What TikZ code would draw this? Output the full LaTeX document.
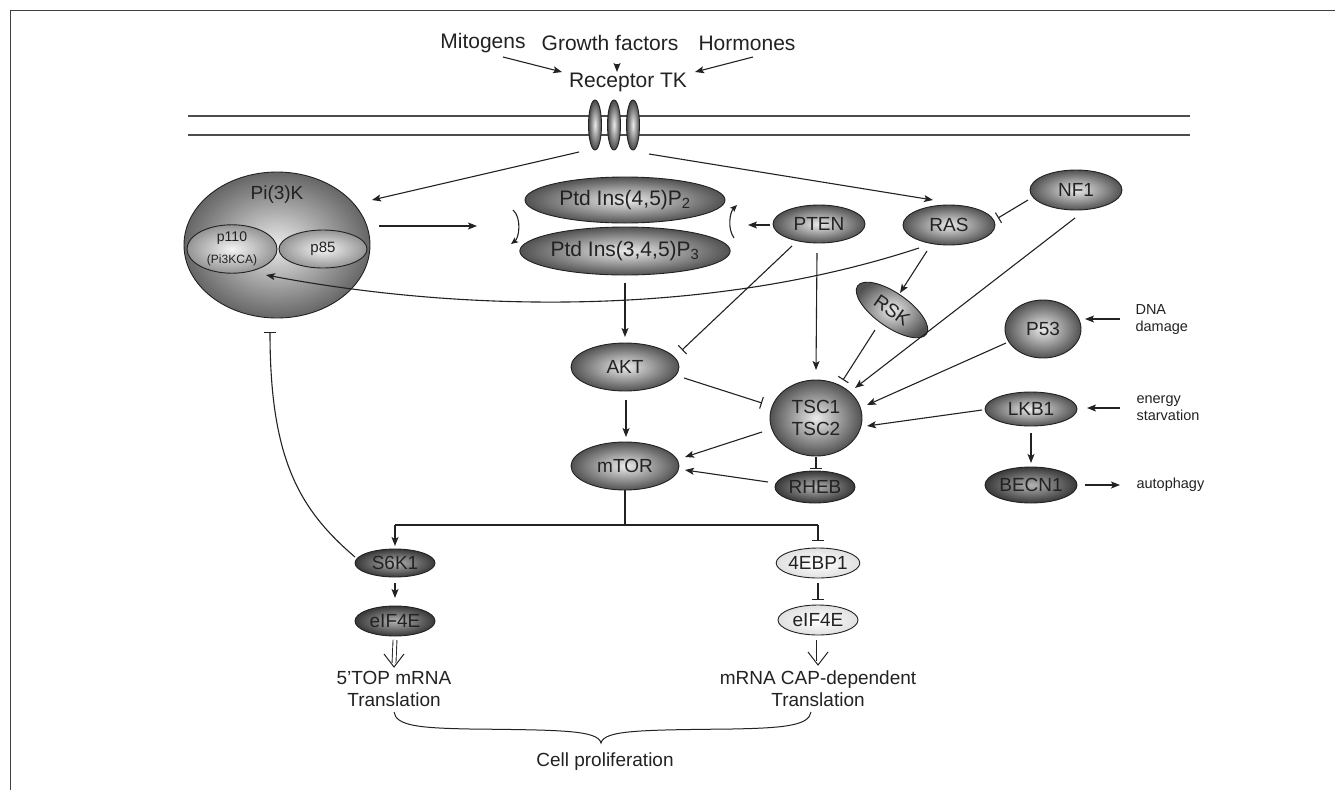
\documentclass[tikz,border=0pt]{standalone}
\usepackage{fontspec}
\setmainfont{Liberation Sans}
\usetikzlibrary{arrows.meta,shapes.geometric}
\definecolor{ink}{HTML}{222222}
\begin{document}
\begin{tikzpicture}[x=1pt,y=-1pt,
  every node/.style={text=ink},
  big/.style={font=\fontsize{21}{24}\selectfont},
  nd/.style={font=\fontsize{19}{22}\selectfont},
  sm/.style={font=\fontsize{14.5}{17}\selectfont},
  ov/.style={ellipse, draw=ink, line width=0.9pt, inner sep=0pt, nd},
  std/.style={ov, inner color=black!8, outer color=black!68},
  dk/.style={ov, inner color=black!30, outer color=black!78},
  lt/.style={ov, inner color=white, outer color=black!12},
  conn/.style={draw=ink, line width=1.1pt},
  arr/.style={conn, -{Stealth[length=9pt,width=7pt,inset=2pt]}},
  inh/.style={conn, -{Bar[width=12pt,line width=1.1pt]}},
  dshaft/.style={draw=ink, line width=0.9pt, double=white, double distance=3pt},
  vhead/.style={draw=ink, line width=1pt, line join=miter},
]
\useasboundingbox (0,0) rectangle (1335,790);
\draw[line width=1pt, black!75] (1335,10) -- (10,10) -- (10,790);

% membrane
\draw[black!70, line width=1.3pt] (188,116) -- (1190,116) (188,135) -- (1190,135);
\foreach \n/\x in {r1/595, r2/614, r3/633}
  \node[ov, inner color=black!8, outer color=black!72, minimum width=13pt, minimum height=50pt] (\n) at (\x,125) {};

% top labels
\node[big] (mit) at (483,43) {Mitogens};
\node[big] (gf)  at (610,43) {Growth factors};
\node[big] (hor) at (747,43) {Hormones};
\node[big] (rtk) at (628,82) {Receptor TK};
\draw[arr] ([shift={(20,14)}]mit.center) -- ([shift={(-66,-10)}]rtk.center);
\draw[arr] ([shift={(7,21)}]gf.center) -- ([shift={(-11,-10)}]rtk.center);
\draw[arr] ([shift={(6,14)}]hor.center) -- ([shift={(67,-10)}]rtk.center);

% PI3K
\node[ov, inner color=black!8, outer color=black!60, minimum width=186pt, minimum height=146pt] (pi3k) at (277,245) {};
\node[nd] (pilbl) at (277,195) {Pi(3)K};
\node[ov, inner color=black!4, outer color=black!42, minimum width=90pt, minimum height=38pt, align=center] (p110) at (232,249)
  {\fontsize{14}{15}\selectfont p110\\{\fontsize{12}{13}\selectfont (Pi3KCA)}};
\node[ov, inner color=black!4, outer color=black!42, minimum width=88pt, minimum height=38pt, font=\fontsize{15}{17}\selectfont] (p85) at (323,249) {p85};

% phosphoinositides
\node[std, big, minimum width=200pt, minimum height=46pt] (pip2) at (625,200) {Ptd Ins(4,5)P\textsubscript{2}};
\node[std, big, minimum width=200pt, minimum height=48pt] (pip3) at (625,251) {Ptd Ins(3,4,5)P\textsubscript{3}};

% other nodes
\node[std, minimum width=92pt, minimum height=38pt] (pten) at (819,224) {PTEN};
\node[std, minimum width=92pt, minimum height=40pt] (ras) at (949,225) {RAS};
\node[std, minimum width=92pt, minimum height=40pt] (nf1) at (1076,190) {NF1};
\node[std, rotate=-35, minimum width=84pt, minimum height=34pt] (rsk) at (892,310) {RSK};
\node[std, minimum width=76pt, minimum height=58pt] (p53) at (1043,329) {P53};
\node[std, minimum width=92pt, minimum height=76pt, align=center] (tsc) at (816,418) {TSC1\\TSC2};
\node[std, minimum width=108pt, minimum height=48pt] (akt) at (625,367) {AKT};
\node[std, minimum width=108pt, minimum height=48pt] (mtor) at (625,466) {mTOR};
\node[dk, minimum width=80pt, minimum height=32pt] (rheb) at (815,487) {RHEB};
\node[std, minimum width=92pt, minimum height=34pt] (lkb1) at (1031,409) {LKB1};
\node[dk, minimum width=92pt, minimum height=36pt] (becn1) at (1031,485) {BECN1};
\node[dk, minimum width=80pt, minimum height=28pt] (s6k1) at (395,563) {S6K1};
\node[dk, minimum width=80pt, minimum height=30pt] (eifL) at (395,621) {eIF4E};
\node[lt, minimum width=80pt, minimum height=30pt] (ebp) at (818,563) {4EBP1};
\node[lt, minimum width=80pt, minimum height=30pt] (eifR) at (818,620) {eIF4E};

% side labels
\node[sm, anchor=west, align=left] (dna) at (1132,320) {DNA\\damage};
\node[sm, anchor=west, align=left] (ener) at (1133,408) {energy\\starvation};
\node[sm, anchor=west] (auto) at (1133,485) {autophagy};

% bottom labels
\node[nd, align=center] (top) at (394,689) {5’TOP mRNA\\Translation};
\node[nd, align=center] (cap) at (818,689) {mRNA CAP-dependent\\Translation};
\node[nd] (cell) at (605,762) {Cell proliferation};

% connectors
\draw[arr] ([shift={(-16,27)}]r1.center) -- ([shift={(95,-45)}]pi3k.center);
\draw[arr] ([shift={(16,29)}]r3.center) -- ([shift={(-16,-25)}]ras.center);
\draw[arr] ([shift={(102,-19)}]pi3k.center) -- ([shift={(-148,26)}]pip2.center);
\draw[conn, -{Stealth[length=7pt,width=6pt,inset=1.5pt]}] ([shift={(-112,10)}]pip2.center) .. controls +(9,8) and +(8,-6) .. ([shift={(-114,-7)}]pip3.center);
\draw[conn, -{Stealth[length=7pt,width=6pt,inset=1.5pt]}] ([shift={(109,-13)}]pip3.center) .. controls +(-7,-10) and +(-7,7) .. ([shift={(112,5)}]pip2.center);
\draw[arr] ([shift={(-49,1)}]pten.center) -- ([shift={(-71,1)}]pten.center);
\draw[inh] ([shift={(-48,10)}]nf1.center) -- ([shift={(49,-7)}]ras.center);
\draw[arr] ([shift={(-22,26)}]ras.center) -- ([shift={(8,-17)}]rsk.center);
\draw[arr] ([shift={(-30,23)}]ras.center) .. controls (700,320) and (450,310) .. ([shift={(-11,30)}]pi3k.center);
\draw[arr] ([shift={(0,32)}]pip3.center) -- ([shift={(0,-30)}]akt.center);
\draw[inh] ([shift={(-27,22)}]pten.center) -- ([shift={(57,-17)}]akt.center);
\draw[arr] ([shift={(-2,29)}]pten.center) -- ([shift={(0,-48)}]tsc.center);
\draw[arr] ([shift={(-1,28)}]nf1.center) -- ([shift={(39,-30)}]tsc.center);
\draw[inh] ([shift={(-17,20)}]rsk.center) -- ([shift={(27,-38)}]tsc.center);
\draw[arr] ([shift={(-37,14)}]p53.center) -- ([shift={(51,-13)}]tsc.center);
\draw[arr] ([shift={(-49,1)}]lkb1.center) -- ([shift={(51,8)}]tsc.center);
\draw[arr] ([shift={(-12,-1)}]dna.west) -- ([shift={(42,-10)}]p53.center);
\draw[arr] ([shift={(-13,0)}]ener.west) -- ([shift={(56,-1)}]lkb1.center);
\draw[arr] ([shift={(54,0)}]becn1.center) -- ([shift={(-13,0)}]auto.west);
\draw[arr] ([shift={(0,24)}]lkb1.center) -- ([shift={(0,-22)}]becn1.center);
\draw[inh] ([shift={(59,11)}]akt.center) -- ([shift={(-54,-15)}]tsc.center);
\draw[arr] ([shift={(1,33)}]akt.center) -- ([shift={(1,-29)}]mtor.center);
\draw[arr] ([shift={(-54,14)}]tsc.center) -- ([shift={(60,-9)}]mtor.center);
\draw[arr] ([shift={(-47,-5)}]rheb.center) -- ([shift={(60,4)}]mtor.center);
\draw[inh] ([shift={(0,39)}]tsc.center) -- ([shift={(1,-18)}]rheb.center);

% mTOR branch
\coordinate (brM) at (625,525);
\coordinate (brL) at (395,525);
\coordinate (brR) at (818,525);
\draw[conn] (mtor.south) -- (brM);
\draw[conn] (brL) -- (brR);
\draw[arr] (brL) -- ([shift={(0,-17)}]s6k1.center);
\draw[inh] (brR) -- ([shift={(0,-22)}]ebp.center);
\draw[arr] ([shift={(0,20)}]s6k1.center) -- ([shift={(0,-23)}]eifL.center);
\draw[inh] ([shift={(0,20)}]ebp.center) -- ([shift={(0,-20)}]eifR.center);
\draw[inh] ([shift={(-40,-6)}]s6k1.center) .. controls (300,510) and (270,460) .. ([shift={(-7,87)}]pi3k.center);

% translation arrows (double shaft, open head)
\coordinate (tipL) at ([shift={(0,-22)}]top.center);
\coordinate (tipR) at ([shift={(0,-24)}]cap.center);
\draw[dshaft] ([shift={(0,19)}]eifL.center) -- ([shift={(0,-4)}]tipL);
\draw[vhead] ([shift={(-10,-13)}]tipL) -- (tipL) -- ([shift={(10,-13)}]tipL);
\draw[dshaft] ([shift={(0,20)}]eifR.center) -- ([shift={(0,-4)}]tipR);
\draw[vhead] ([shift={(-10,-13)}]tipR) -- (tipR) -- ([shift={(10,-13)}]tipR);

% brace
\coordinate (bl) at ([shift={(0,23)}]top.center);
\coordinate (br) at ([shift={(-7,23)}]cap.center);
\coordinate (bt) at ([shift={(-4,-19)}]cell.center);
\coordinate (b1) at (470,729);
\coordinate (b2) at (732,729);
\draw[conn, line width=1pt] (bl) .. controls +(2,14) and +(-50,-1) .. (b1)
  .. controls +(90,1) and +(-3,-13) .. (bt)
  .. controls +(3,-13) and +(-90,1) .. (b2)
  .. controls +(50,-1) and +(-2,14) .. (br);
\end{tikzpicture}
\end{document}
